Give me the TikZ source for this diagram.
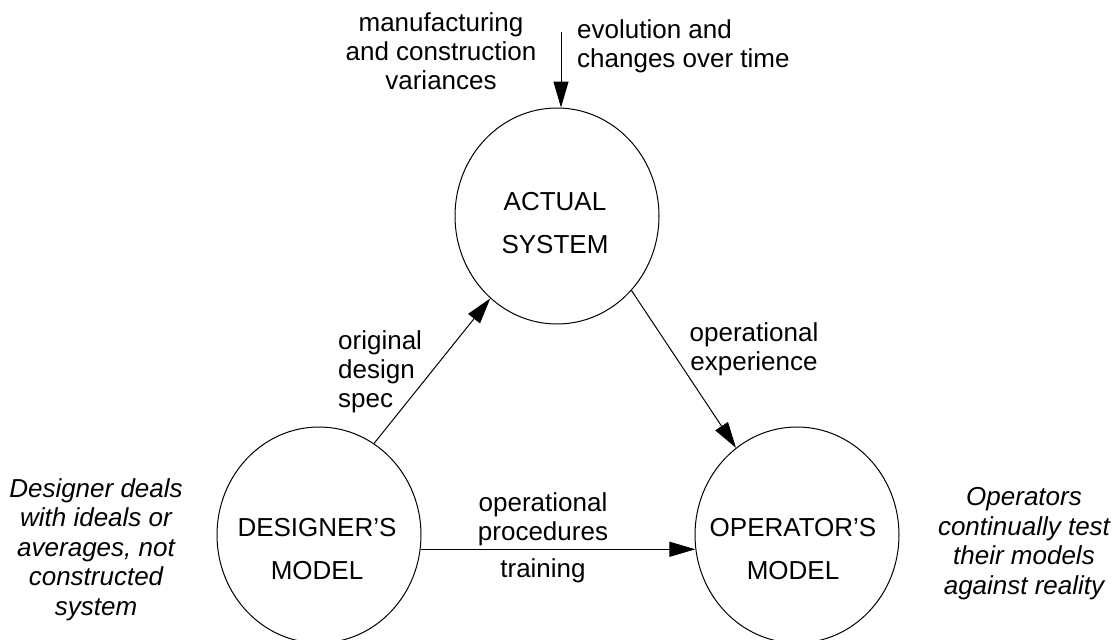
\documentclass[tikz,border=0pt]{standalone}
\usepackage{fontspec}
\setmainfont{Liberation Sans}
\usetikzlibrary{shapes.geometric,arrows.meta}
\begin{document}
\begin{tikzpicture}[x=1pt,y=-1pt,
  model/.style={ellipse,draw,line width=1pt,minimum width=204pt,minimum height=216pt,inner sep=0pt},
  lbl/.style={font=\fontsize{26}{29}\selectfont,align=center,anchor=base,inner sep=0pt},
  caplbl/.style={font=\fontsize{26}{43}\selectfont,align=center,anchor=base,inner sep=0pt},
  note/.style={lbl,font=\fontsize{26}{29.5}\selectfont\itshape},
  arr/.style={-{Triangle[length=26pt,width=15pt]},line width=1pt}]
\useasboundingbox[fill=white] (0,0) rectangle (1120,640);
\node[model] (A) at (557,216) {};
\node[model] (D) at (319,535) {};
\node[model] (O) at (797,535) {};
\node[caplbl] (At) at (555,253) {ACTUAL\\SYSTEM};
\node[caplbl] (Dt) at (317,579) {DESIGNER'S\\MODEL};
\node[caplbl] (Ot) at (793,579) {OPERATOR'S\\MODEL};
\node[lbl] (mfg) at (441,89) {manufacturing\\and construction\\variances};
\node[lbl,align=left,anchor=base west] (evo) at (577,67) {evolution and\\changes over time};
\node[lbl,align=left,anchor=base west] (ods) at (338,407) {original\\design\\spec};
\node[lbl] (oe) at (754,370) {operational\\experience};
\node[lbl] (opt) at (543,577) {operational\\procedures\\[8pt]training};
\node[note] (dn) at (96,615) {Designer deals\\with ideals or\\averages, not\\constructed\\system};
\node[note] (on) at (1024,594) {Operators\\continually test\\their models\\against reality};
\coordinate (vtop) at (561,32);
\draw[arr] (vtop) -- (vtop |- A.north);
\draw[arr] (D.59) -- (A.231);
\draw[arr] (A.-45) -- (O.125);
\draw[arr] (D.-8.5) -- (O.188.5);
\end{tikzpicture}
\end{document}
